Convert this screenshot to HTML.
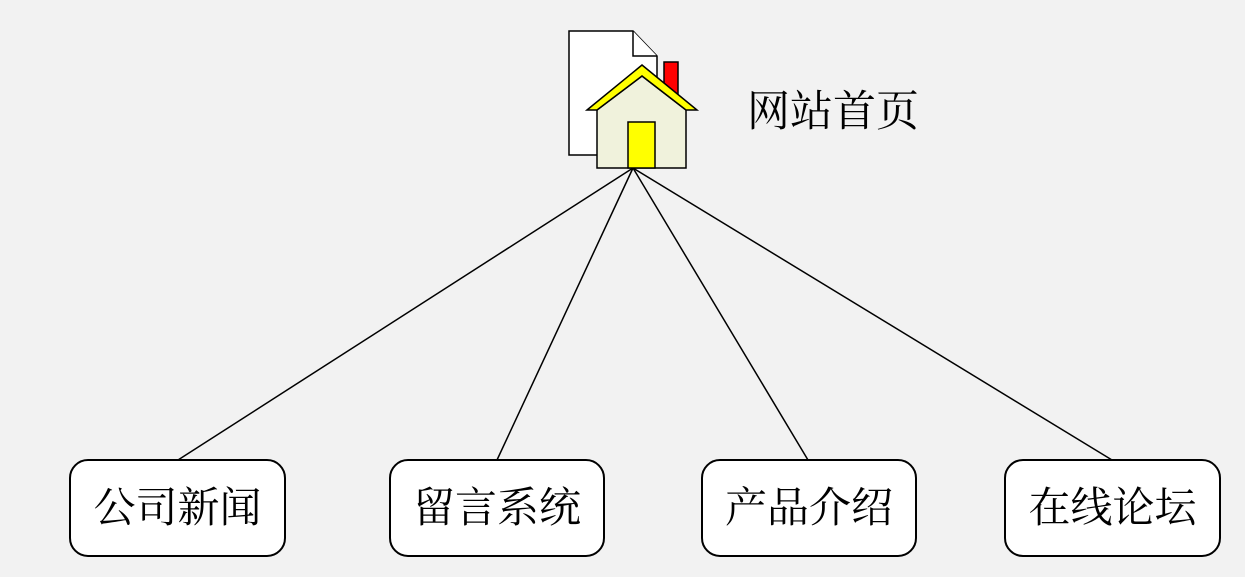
<!DOCTYPE html>
<html><head><meta charset="utf-8"><style>
html,body{margin:0;padding:0;background:#f2f2f2;}
svg{display:block}
text{font-family:"Liberation Serif","Noto Serif CJK SC",serif;font-size:42px;fill:#000}
</style></head><body>
<svg width="1245" height="577" viewBox="0 0 1245 577" xmlns="http://www.w3.org/2000/svg">
<rect width="1245" height="577" fill="#f2f2f2"/>
<g stroke="#000" stroke-width="1.5" fill="none">
<line x1="633" y1="168" x2="178" y2="460"/>
<line x1="633" y1="168" x2="497" y2="460"/>
<line x1="633" y1="168" x2="808" y2="460"/>
<line x1="633" y1="168" x2="1112" y2="460"/>
</g>
<g stroke="#000" stroke-width="1.5">
<path d="M569 31 H633 L657 56 V155 H569 Z" fill="#fff"/>
<path d="M633 31 V56 H657" fill="#fff"/>
<rect x="664" y="62" width="14" height="40" fill="#ff0000"/>
<path d="M597 110 L642 76 L686 110 V168 H597 Z" fill="#f0f2dc"/>
<path d="M587 110 L642 65 L697 110 H686 L642 76 L597 110 Z" fill="#ffff00"/>
<rect x="628" y="122" width="27" height="46" fill="#ffff00"/>
</g>
<text x="747" y="126" style="font-size:43px">网站首页</text>
<g stroke="#000" stroke-width="2" fill="#fff">
<rect x="70" y="460" width="215" height="96" rx="18"/>
<rect x="390" y="460" width="214" height="96" rx="18"/>
<rect x="702" y="460" width="214" height="96" rx="18"/>
<rect x="1005" y="460" width="215" height="96" rx="18"/>
</g>
<g text-anchor="middle">
<text x="177.5" y="522">公司新闻</text>
<text x="497" y="522">留言系统</text>
<text x="809" y="522">产品介绍</text>
<text x="1112.5" y="522">在线论坛</text>
</g>
</svg>
</body></html>
